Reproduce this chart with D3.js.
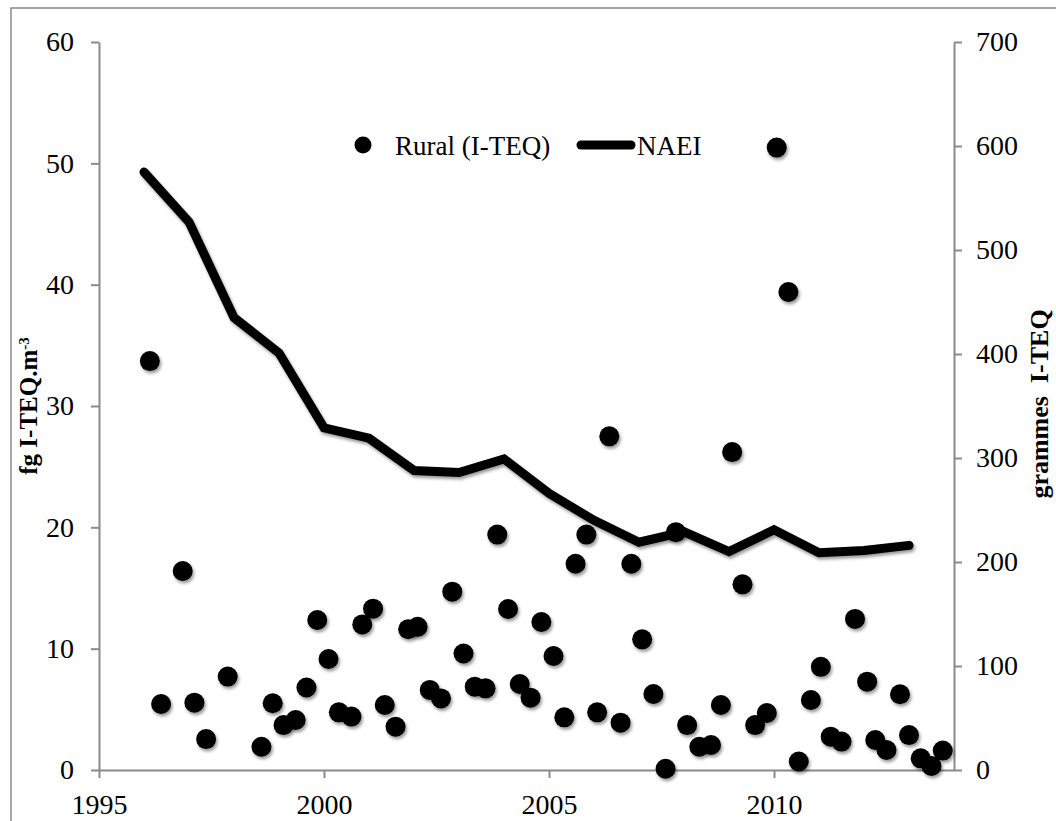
<!DOCTYPE html>
<html><head><meta charset="utf-8">
<script src="https://cdn.jsdelivr.net/npm/d3@7"></script>
<style>html,body{margin:0;padding:0;background:#fff;overflow:hidden}</style>
</head><body><svg id="chart" width="1056" height="821"></svg>
<script>
// ---- data ----
const rurYear = [1996.13,1996.38,1996.86,1997.12,1997.38,1997.86,1998.61,1998.86,1999.10,1999.37,1999.61,1999.85,
  2000.10,2000.33,2000.61,2000.85,2001.09,2001.35,2001.59,2001.87,2002.08,2002.35,2002.60,2002.85,
  2003.10,2003.35,2003.59,2003.85,2004.09,2004.35,2004.59,2004.83,2005.10,2005.34,2005.59,2005.83,
  2006.07,2006.34,2006.59,2006.83,2007.07,2007.32,2007.59,2007.82,2008.07,2008.34,2008.60,2008.82,
  2009.07,2009.30,2009.58,2009.84,2010.06,2010.32,2010.55,2010.82,2011.04,2011.26,2011.50,2011.80,
  2012.07,2012.25,2012.50,2012.80,2013.00,2013.26,2013.50,2013.75];
const rurValue = [33.7,5.44,16.4,5.55,2.55,7.7,1.92,5.5,3.7,4.12,6.8,12.36,
  9.15,4.75,4.4,12.0,13.3,5.36,3.57,11.6,11.8,6.6,5.9,14.7,
  9.6,6.87,6.73,19.4,13.27,7.09,5.96,12.2,9.4,4.34,17.0,19.4,
  4.75,27.5,3.9,17.0,10.77,6.26,0.1,19.6,3.7,1.92,2.06,5.36,
  26.2,15.3,3.7,4.7,51.3,39.4,0.7,5.77,8.5,2.75,2.34,12.45,
  7.28,2.47,1.65,6.24,2.88,0.96,0.33,1.6];
const naeiYear = [1996,1997,1998,1999,2000,2001,2002,2003,2004,2005,2006,2007,2008,2009,2010,2011,2012,2013];
const naeiValue = [575,527,435,401,329,319,288,286,299,266,240,219,229,210,231,209,211,216];
const xTicks = [1995,2000,2005,2010];
const leftTicks = [0,10,20,30,40,50,60];
const rightTicks = [0,100,200,300,400,500,600,700];
const seriesNames = ["Rural (I-TEQ)","NAEI"];
const leftTitle = "fg I-TEQ.m";
const leftTitleSup = "-3";
const rightTitle = "grammes\u00a0\u00a0I-TEQ";

// ---- layout ----
const plot = {left: 99, right: 954, top: 42, bottom: 770};
const FONT = "'Liberation Serif', 'Times New Roman', serif";
const AXIS_COLOR = "#8a8a8a";

const svg = d3.select("#chart");
const defs = svg.append("defs");
const f = defs.append("filter").attr("id","shadow").attr("x","-50%").attr("y","-50%").attr("width","200%").attr("height","200%");
f.append("feDropShadow").attr("dx",1.5).attr("dy",2.5).attr("stdDeviation",1.6)
  .attr("flood-color","#000").attr("flood-opacity",0.4);

// outer border
svg.append("rect").attr("x",11).attr("y",8).attr("width",1100).attr("height",900)
  .attr("fill","#fff").attr("stroke","#8a8a8a").attr("stroke-width",1.5);

const x = d3.scaleLinear().domain([1995,2014]).range([plot.left, plot.right]);
const yL = d3.scaleLinear().domain([0,60]).range([plot.bottom, plot.top]);
const yR = d3.scaleLinear().domain([0,700]).range([plot.bottom, plot.top]);

function styleAxis(g){
  g.select(".domain").attr("stroke",AXIS_COLOR).attr("stroke-width",2);
  g.selectAll(".tick line").attr("stroke",AXIS_COLOR).attr("stroke-width",2);
  g.selectAll(".tick text").attr("fill","#000").style("font-family",FONT).style("font-size","28px");
}

// left axis
const gL = svg.append("g").attr("transform",`translate(${plot.left},0)`)
  .call(d3.axisLeft(yL).tickValues(leftTicks).tickSize(8).tickSizeOuter(0).tickPadding(17));
styleAxis(gL);

// right axis
const gR = svg.append("g").attr("transform",`translate(${plot.right},0)`)
  .call(d3.axisRight(yR).tickValues(rightTicks).tickSize(8).tickSizeOuter(0).tickPadding(14));
styleAxis(gR);

// bottom axis
const gX = svg.append("g").attr("transform",`translate(0,${plot.bottom})`)
  .call(d3.axisBottom(x).tickValues(xTicks).tickFormat(d3.format("d")).tickSize(8).tickSizeOuter(0).tickPadding(16));
styleAxis(gX);

// axis titles
const lt = svg.append("text").attr("transform",`translate(37,406) rotate(-90)`)
  .attr("text-anchor","middle").style("font-family",FONT).style("font-size","25px").style("font-weight","bold");
lt.append("tspan").text(leftTitle);
lt.append("tspan").attr("baseline-shift","super").style("font-size","15px").text(leftTitleSup);

svg.append("text").attr("transform",`translate(1048,404) rotate(-90)`)
  .attr("text-anchor","middle").style("font-family",FONT).style("font-size","26px").style("font-weight","bold")
  .text(rightTitle);

// NAEI line
const line = d3.line().x((d,i)=>x(naeiYear[i])).y(d=>yR(d));
svg.append("path").datum(naeiValue).attr("d",line).attr("fill","none")
  .attr("stroke","#000").attr("stroke-width",9).attr("stroke-linejoin","miter").attr("stroke-linecap","round")
  .attr("filter","url(#shadow)");

// Rural points
svg.append("g").selectAll("circle").data(rurValue).join("circle")
  .attr("cx",(d,i)=>x(rurYear[i])).attr("cy",d=>yL(d)).attr("r",10)
  .attr("fill","#000").attr("filter","url(#shadow)");

// legend
const lg = svg.append("g");
lg.append("circle").attr("cx",363).attr("cy",145).attr("r",8.5).attr("fill","#000");
lg.append("text").attr("x",395).attr("y",155).style("font-family",FONT).style("font-size","27px").text(seriesNames[0]);
lg.append("line").attr("x1",581).attr("x2",631).attr("y1",145).attr("y2",145)
  .attr("stroke","#000").attr("stroke-width",9).attr("stroke-linecap","round");
lg.append("text").attr("x",637).attr("y",155).style("font-family",FONT).style("font-size","27px").text(seriesNames[1]);
</script></body></html>
